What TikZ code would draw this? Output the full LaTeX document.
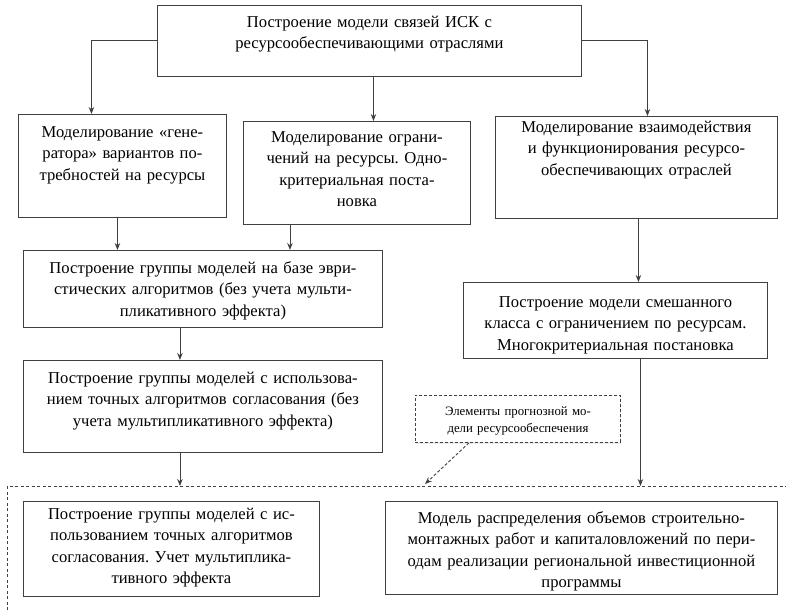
\documentclass[tikz,border=0pt]{standalone}
\usepackage{fontspec}
\setmainfont{Liberation Serif}
\usetikzlibrary{arrows.meta,shadows}
\definecolor{linegray}{HTML}{404040}
\frenchspacing
\begin{document}
\begin{tikzpicture}[x=1pt,y=-1pt,
  block/.style={draw=linegray,line width=0.9pt,anchor=north west,align=center,inner xsep=3pt,inner ysep=0pt,
    font=\fontsize{16.6}{21.5}\selectfont},
  note/.style={block,fill=white,dash pattern=on 3pt off 2pt,font=\fontsize{12.8}{17}\selectfont,
    drop shadow={opacity=0.15,shadow xshift=1pt,shadow yshift=-2pt}},
  link/.style={draw=linegray,line width=0.9pt,-{Stealth[length=7pt,width=5.5pt]}},
  region/.style={draw=linegray,line width=0.9pt,dash pattern=on 3pt off 2.5pt}]
\useasboundingbox (0,0) rectangle (786,610);
\node[block,text width=418pt,text height=22pt,text depth=49pt] (top) at (157,5) {Построение модели связей ИСК с\\ресурсообеспечивающими отраслями};
\node[block,text width=202pt,text height=23pt,text depth=80pt] (gen) at (18,114) {Моделирование «гене-\\ратора» вариантов по-\\требностей на ресурсы};
\node[block,text width=221pt,text height=21pt,text depth=82pt] (lim) at (243,121) {Моделирование ограни-\\чений на ресурсы. Одно-\\критериальная поста-\\новка};
\node[block,text width=276pt,text height=16pt,text depth=86pt] (inter) at (495,116) {Моделирование взаимодействия\\и функционирования ресурсо-\\обеспечивающих отраслей};
\node[block,text width=353pt,text height=23pt,text depth=54pt] (heur) at (23,250) {Построение группы моделей на базе эври-\\стических алгоритмов (без учета мульти-\\пликативного эффекта)};
\node[block,text width=353pt,text height=23pt,text depth=69pt] (exact) at (23,360) {Построение группы моделей с использова-\\нием точных алгоритмов согласования (без\\учета мультипликативного эффекта)};
\node[block,text width=298pt,text height=25pt,text depth=51pt] (mixed) at (463,282) {Построение модели смешанного\\класса с ограничением по ресурсам.\\Многокритериальная постановка};
\node[note,text width=199pt,text height=20pt,text depth=27pt] (forecast) at (415,395) {Элементы прогнозной мо-\\дели ресурсообеспечения};
\node[block,text width=290pt,text height=18pt,text depth=77pt] (mult) at (23,501) {Построение группы моделей с ис-\\пользованием точных алгоритмов\\согласования. Учет мультиплика-\\тивного эффекта};
\node[block,text width=386pt,text height=22pt,text depth=71pt] (distr) at (385,501) {Модель распределения объемов строительно-\\монтажных работ и капиталовложений по пери-\\одам реализации региональной инвестиционной\\программы};
\coordinate (grp) at (7,486);
\coordinate (grpbot) at (7,610);
\coordinate (grpright) at (786,486);
\coordinate (forecastend) at (425,484);
\draw[region] (grpbot) -- (grp) -- (grpright);
\draw[link] (top.west) -| ([xshift=-31pt]gen.north);
\draw[link] ([xshift=4pt]top.south) -- ([xshift=4pt]top.south |- lim.north);
\draw[link] (top.east) -| ([xshift=11pt]inter.north);
\draw[link] ([xshift=-5pt]gen.south) -- ([xshift=-5pt]gen.south |- heur.north);
\draw[link] ([xshift=-67pt]lim.south) -- ([xshift=-67pt]lim.south |- heur.north);
\draw[link] ([xshift=-23pt]heur.south) -- ([xshift=-23pt]heur.south |- exact.north);
\draw[link] ([xshift=-23pt]exact.south) -- ([xshift=-23pt]exact.south |- grp);
\draw[link] ([xshift=2pt]inter.south) -- ([xshift=2pt]inter.south |- mixed.north);
\draw[link] ([xshift=25pt]mixed.south) -- ([xshift=25pt]mixed.south |- grp);
\draw[link,dash pattern=on 3pt off 2pt] ([xshift=-49pt]forecast.south) -- (forecastend);
\end{tikzpicture}
\end{document}
